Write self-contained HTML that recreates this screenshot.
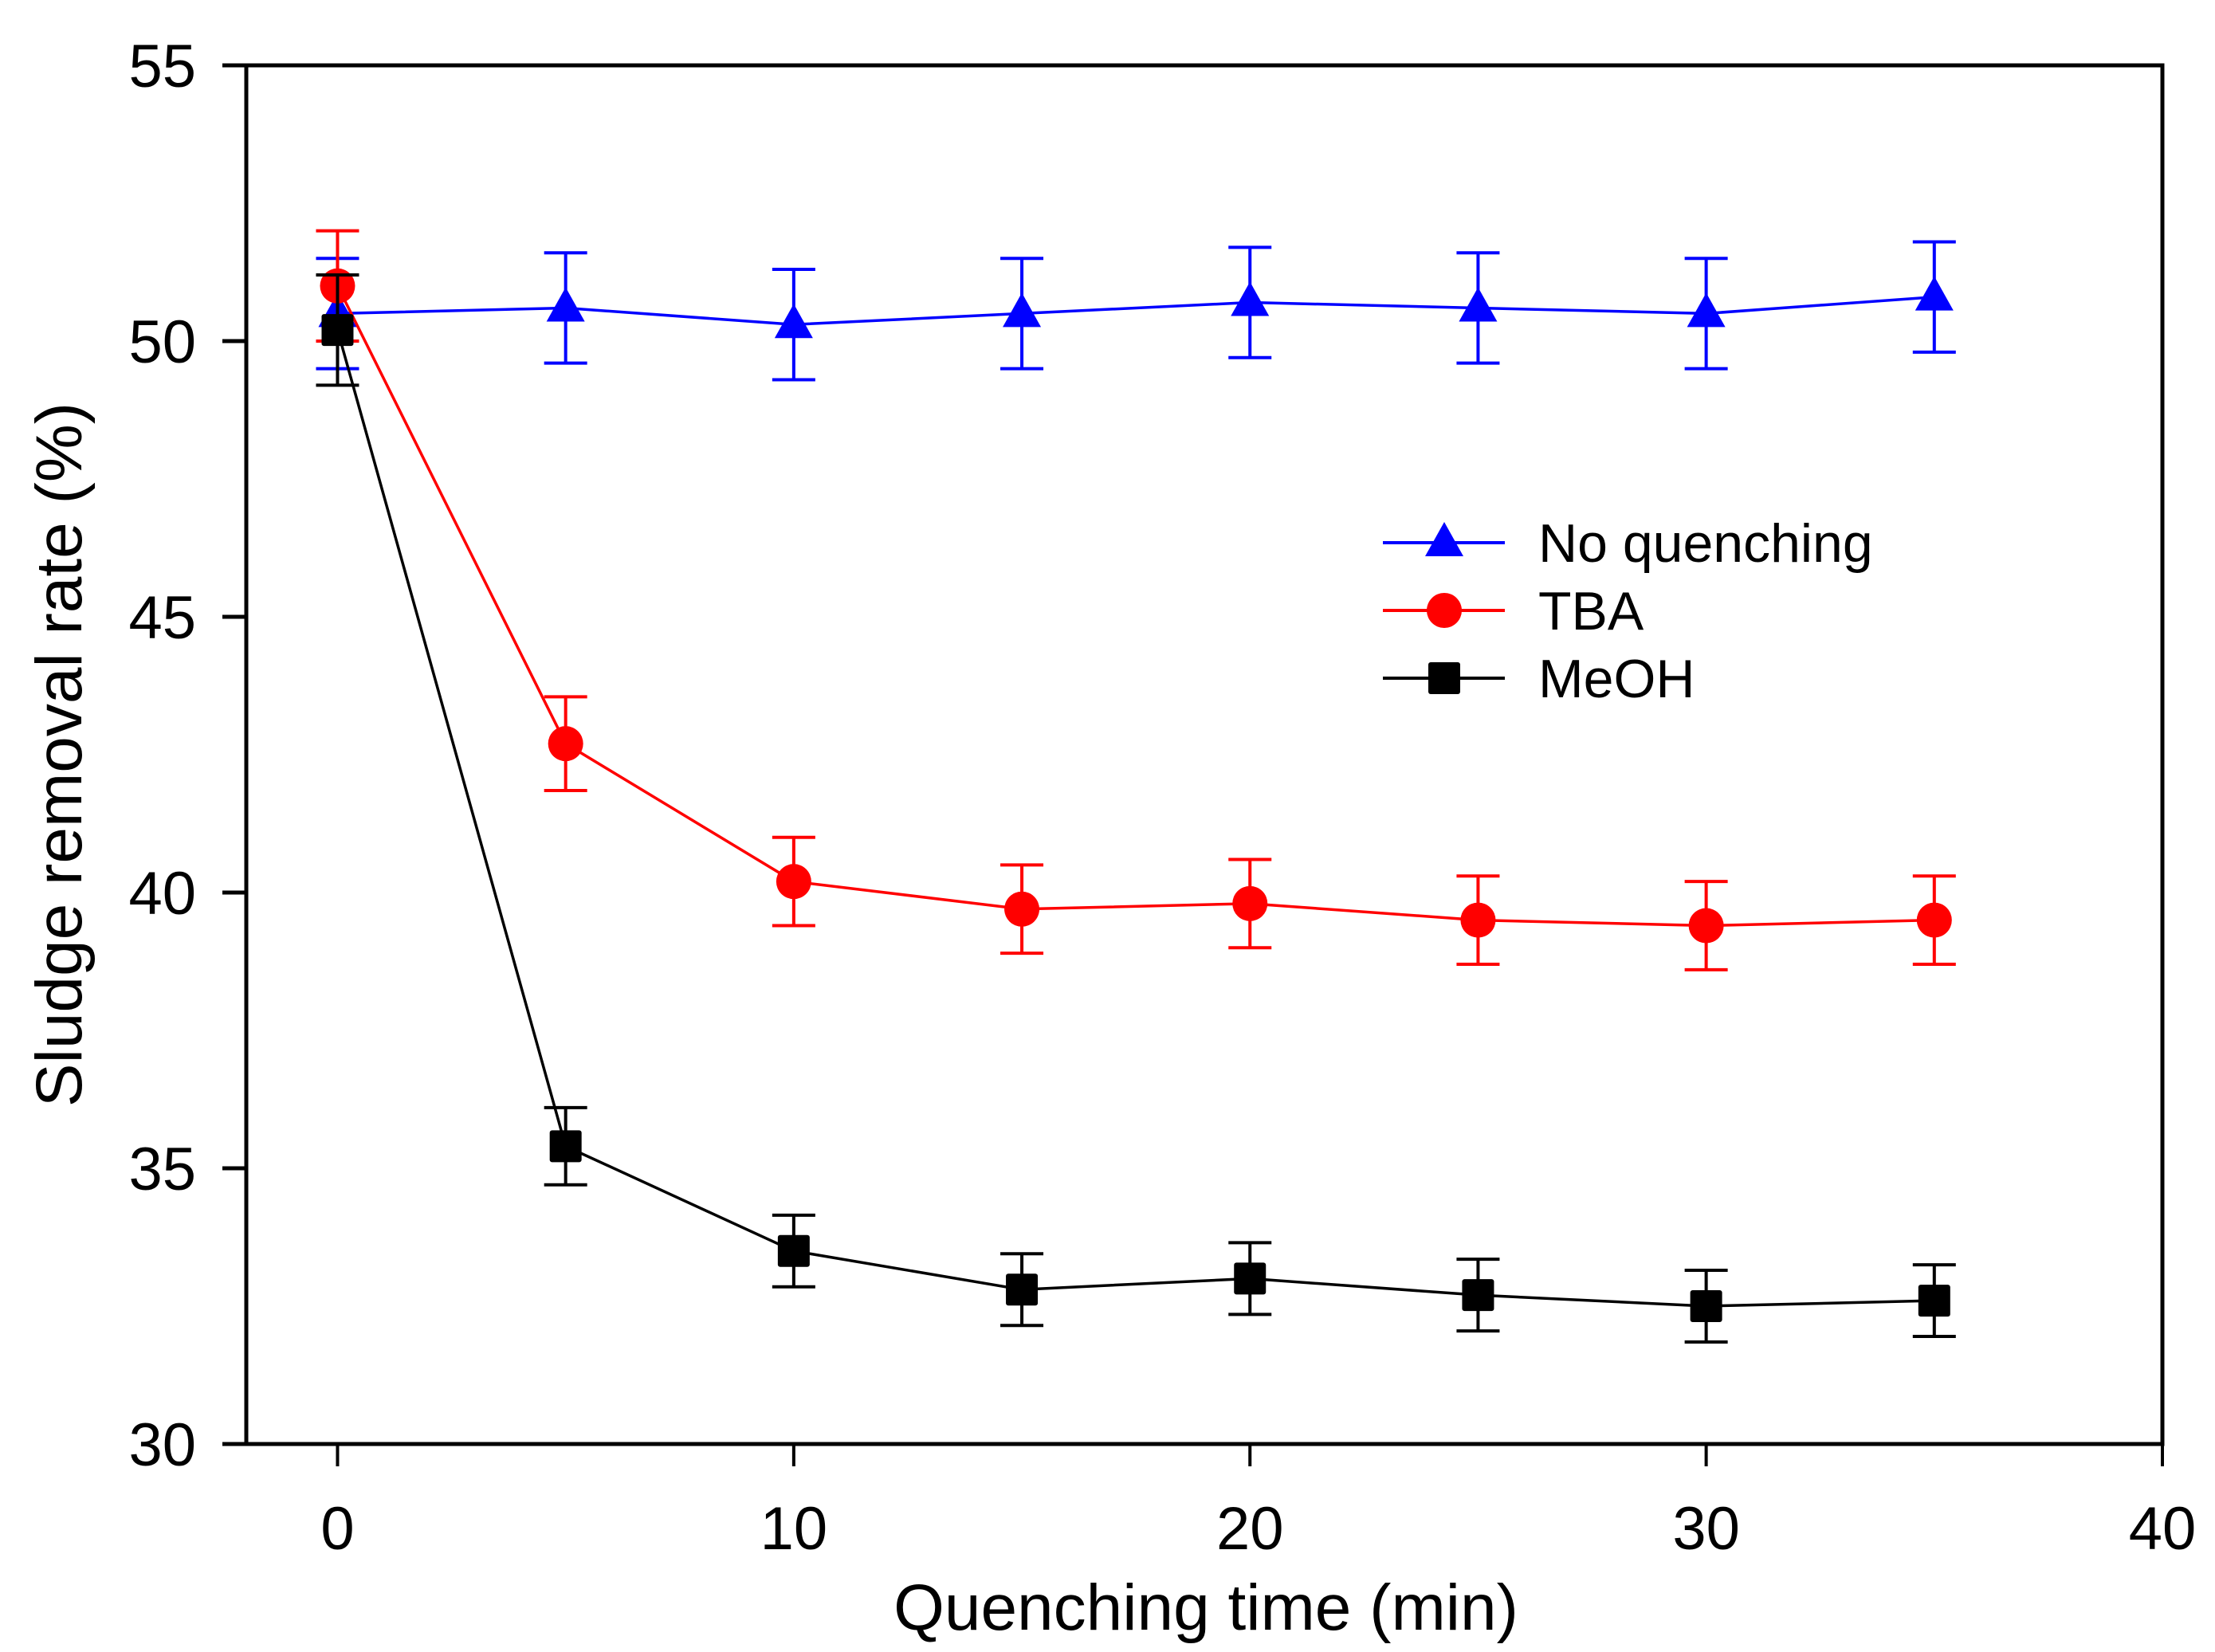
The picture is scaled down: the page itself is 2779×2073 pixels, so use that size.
<!DOCTYPE html>
<html><head><meta charset="utf-8"><style>
html,body{margin:0;padding:0;background:#fff;}
svg{display:block;font-family:"Liberation Sans",Arial,sans-serif;}
</style></head><body>
<svg id="chart" width="2779" height="2073" viewBox="0 0 2779 2073" xmlns="http://www.w3.org/2000/svg">
<g id="axes"></g>
<g id="series"></g>
<g id="legend"></g>
</svg>
<script>
const xValues = [0, 5, 10, 15, 20, 25, 30, 35];
const noQuench = [50.5, 50.6, 50.3, 50.5, 50.7, 50.6, 50.5, 50.8];
const noQuenchErr = [1.0, 1.0, 1.0, 1.0, 1.0, 1.0, 1.0, 1.0];
const tba = [51.0, 42.7, 40.2, 39.7, 39.8, 39.5, 39.4, 39.5];
const tbaErr = [1.0, 0.85, 0.8, 0.8, 0.8, 0.8, 0.8, 0.8];
const meoh = [50.2, 35.4, 33.5, 32.8, 33.0, 32.7, 32.5, 32.6];
const meohErr = [1.0, 0.7, 0.65, 0.65, 0.65, 0.65, 0.65, 0.65];
const xTicks = [0, 10, 20, 30, 40];
const yTicks = [30, 35, 40, 45, 50, 55];

const NS = "http://www.w3.org/2000/svg";
const L = 309, R = 2713, T = 82, B = 1812;
const xMin = -2, xMax = 40, yMin = 30, yMax = 55;
function sx(v){ return L + (v - xMin) / (xMax - xMin) * (R - L); }
function sy(v){ return B - (v - yMin) / (yMax - yMin) * (B - T); }
function mk(tag, attrs, parent){
  const e = document.createElementNS(NS, tag);
  for (const k in attrs) e.setAttribute(k, attrs[k]);
  parent.appendChild(e);
  return e;
}
const axes = document.getElementById('axes');
const frame = mk('rect', {x:L, y:T, width:R-L, height:B-T, fill:'none', stroke:'#000', 'stroke-width':5}, axes);


xTicks.forEach(v => {
  const t = mk('line', {x1:sx(v), x2:sx(v), y1:B, y2:B+28, stroke:'#000', 'stroke-width':4}, axes);
  
  
  const lb = mk('text', {x:sx(v), y:B+132, 'font-size':76, 'text-anchor':'middle'}, axes);
  lb.textContent = v;
  
  
});
yTicks.forEach(v => {
  const t = mk('line', {x1:L-30, x2:L, y1:sy(v), y2:sy(v), stroke:'#000', 'stroke-width':5}, axes);
  
  
  const lb = mk('text', {x:L-63, y:sy(v)+27, 'font-size':76, 'text-anchor':'end'}, axes);
  lb.textContent = v;
  
  
});
const xt = mk('text', {x:1513, y:2045, 'font-size':82, 'text-anchor':'middle'}, axes);
xt.textContent = 'Quenching time (min)';


const yt = mk('text', {x:0, y:0, 'font-size':82, 'text-anchor':'middle', transform:'translate(102,' + ((T+B)/2) + ') rotate(-90)'}, axes);
yt.textContent = 'Sludge removal rate (%)';



const seriesG = document.getElementById('series');
function marker(shape, x, y, color, parent){
  let m;
  if (shape === 'tri') m = mk('polygon', {points:`${x},${y-26} ${x-24},${y+17} ${x+24},${y+17}`, fill:color}, parent);
  else if (shape === 'circ') m = mk('circle', {cx:x, cy:y, r:22, fill:color}, parent);
  else m = mk('rect', {x:x-20, y:y-20, width:40, height:40, rx:3, fill:color}, parent);
  return m;
}
function drawSeries(name, vals, errs, color, shape){
  const g = mk('g', {}, seriesG);
  
  
  const pts = xValues.map((x,i) => sx(x) + ',' + sy(vals[i])).join(' ');
  const line = mk('polyline', {points:pts, fill:'none', stroke:color, 'stroke-width':3.5}, g);
  
  
  xValues.forEach((x,i) => {
    const cx = sx(x), top = sy(vals[i]+errs[i]), bot = sy(vals[i]-errs[i]);
    const eb = mk('path', {d:`M${cx},${top}V${bot}M${cx-27},${top}H${cx+27}M${cx-27},${bot}H${cx+27}`, stroke:color, 'stroke-width':4, fill:'none'}, g);
    
    
    const m = marker(shape, cx, sy(vals[i]), color, g);
    
    
  });
}
drawSeries('no-quenching', noQuench, noQuenchErr, '#0000ff', 'tri');
drawSeries('tba', tba, tbaErr, '#ff0000', 'circ');
drawSeries('meoh', meoh, meohErr, '#000000', 'sq');

const legend = document.getElementById('legend');
const legendItems = [['No quenching','#0000ff','tri'],['TBA','#ff0000','circ'],['MeOH','#000000','sq']];
legendItems.forEach((it, i) => {
  const y = 681 + i * 85;
  const g = mk('g', {}, legend);
  
  
  mk('line', {x1:1735, x2:1888, y1:y, y2:y, stroke:it[1], 'stroke-width':4}, g);
  marker(it[2], 1812, y, it[1], g);
  const t = mk('text', {x:1930, y:y+24, 'font-size':68}, g);
  t.textContent = it[0];
  
  
});
</script>
</body></html>
